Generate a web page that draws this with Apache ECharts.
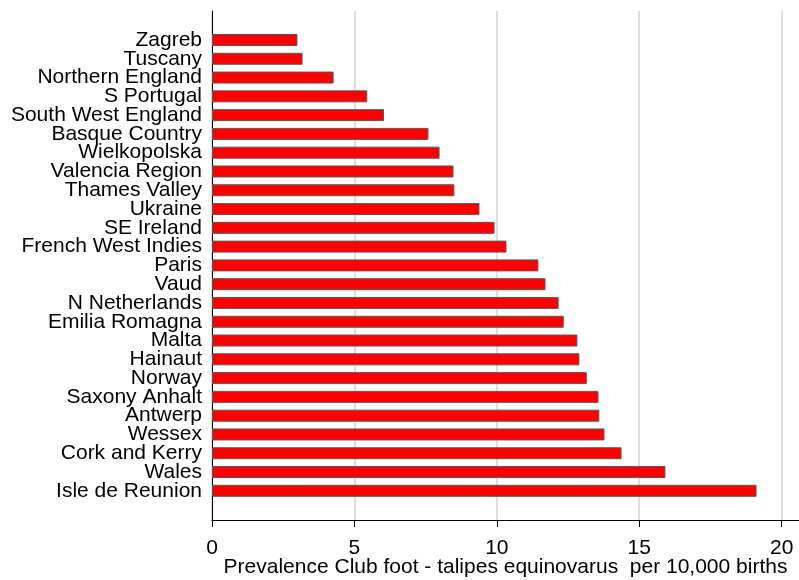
<!DOCTYPE html>
<html>
<head>
<meta charset="utf-8">
<script src="https://cdn.jsdelivr.net/npm/echarts@6/dist/echarts.min.js"></script>
<style>
  html, body { margin: 0; padding: 0; background: #fff; }
  #chart { width: 799px; height: 580px; }
</style>
</head>
<body>
<div id="chart"></div>
<script>
// Regions, listed top to bottom
const regions = [
  'Zagreb', 'Tuscany', 'Northern England', 'S Portugal', 'South West England',
  'Basque Country', 'Wielkopolska', 'Valencia Region', 'Thames Valley', 'Ukraine',
  'SE Ireland', 'French West Indies', 'Paris', 'Vaud', 'N Netherlands',
  'Emilia Romagna', 'Malta', 'Hainaut', 'Norway', 'Saxony Anhalt',
  'Antwerp', 'Wessex', 'Cork and Kerry', 'Wales', 'Isle de Reunion'
];

// Prevalence per 10,000 births
const prevalence = [
  3.0, 3.18, 4.27, 5.45, 6.04,
  7.6, 7.99, 8.48, 8.51, 9.39,
  9.92, 10.34, 11.46, 11.71, 12.17,
  12.35, 12.83, 12.9, 13.16, 13.57,
  13.6, 13.78, 14.38, 15.92, 19.12
];

const xTicks = [0, 5, 10, 15, 20];
const xTitle = 'Prevalence Club foot - talipes equinovarus  per 10,000 births';

const FONT = '"Liberation Sans", Arial, Helvetica, sans-serif';
const xMax = 20.61;

const chart = echarts.init(document.getElementById('chart'), null, { renderer: 'canvas' });

chart.setOption({
  animation: false,
  backgroundColor: '#ffffff',
  textStyle: { fontFamily: FONT },
  grid: [
    // frame: axes and vertical gridlines
    { left: 212, right: 0, top: 11, height: 509, containLabel: false, outerBoundsMode: 'none' },
    // bars, one band per region
    { left: 212, right: 0, top: 30.6, height: 469.6, containLabel: false, outerBoundsMode: 'none' }
  ],
  xAxis: [
    {
      gridIndex: 0,
      type: 'value',
      min: 0,
      max: xMax,
      interval: 5,
      axisLine: { show: true, lineStyle: { color: '#000', width: 1 } },
      axisTick: {
        show: true, length: 7, lineStyle: { color: '#000', width: 1 },
        customValues: xTicks
      },
      axisLabel: {
        show: true, color: '#000', fontSize: 21, fontFamily: FONT, margin: 18,
        customValues: xTicks,
        formatter: v => String(v)
      },
      splitLine: { show: true, lineStyle: { color: '#dedede', width: 2 } },
      name: xTitle,
      nameLocation: 'middle',
      nameGap: 37,
      nameMoveOverlap: false,
      nameTextStyle: { color: '#000', fontSize: 21, fontFamily: FONT }
    },
    {
      gridIndex: 1,
      type: 'value',
      min: 0,
      max: xMax,
      show: false
    }
  ],
  yAxis: [
    {
      gridIndex: 0,
      type: 'value',
      min: 0,
      max: 1,
      axisLine: { show: true, lineStyle: { color: '#000', width: 1 } },
      axisTick: { show: false },
      axisLabel: { show: false },
      splitLine: { show: false }
    },
    {
      gridIndex: 1,
      type: 'category',
      data: regions,
      inverse: true,
      axisLine: { show: false },
      axisTick: { show: false },
      axisLabel: { color: '#000', fontSize: 21, fontFamily: FONT, margin: 10, interval: 0 },
      splitLine: { show: false }
    }
  ],
  series: [
    {
      type: 'bar',
      xAxisIndex: 1,
      yAxisIndex: 1,
      data: prevalence,
      barWidth: 12,
      itemStyle: { color: '#ff0000', borderColor: '#5a5a5a', borderWidth: 1 }
    }
  ]
});
</script>
</body>
</html>
